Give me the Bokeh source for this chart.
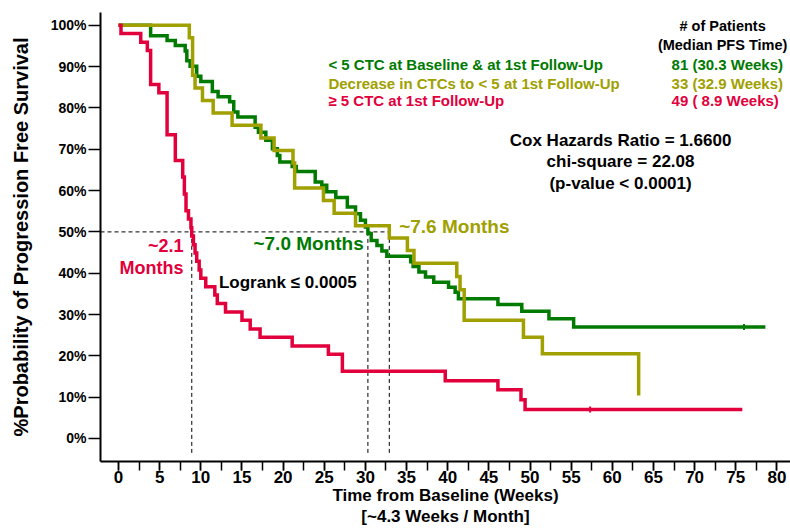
import math
from bokeh.plotting import figure
from bokeh.models import Range1d, Label, SingleIntervalTicker, FixedTicker
from bokeh.embed import file_html
from bokeh.resources import INLINE

# ---------------- data ----------------
green_weeks = [0, 3.9, 5.9, 6.9, 8.1, 8.3, 8.7, 9.5, 10.0, 11.4, 12.1, 13.5, 14.0, 14.5, 16.6,
               17.0, 17.9, 18.7, 19.3, 19.6, 21.1, 21.6, 23.9, 24.7, 25.3, 26.4, 27.8, 28.8,
               29.4, 30.0, 30.3, 30.7, 31.4, 32.0, 32.6, 35.5, 35.8, 36.5, 37.3, 38.3, 40.1,
               40.9, 41.3, 46.1, 49.0, 52.3, 55.3, 78.6]
green_surv = [100, 97.5, 96.3, 95.1, 93.8, 91.4, 90.1, 87.7, 86.4, 84.0, 82.7, 81.5, 79.0, 77.8,
              75.3, 74.1, 72.2, 70.1, 68.5, 66.9, 65.8, 64.6, 62.1, 61.3, 59.7, 58.3, 56.0, 54.4,
              52.8, 51.2, 49.6, 47.9, 46.7, 45.4, 44.1, 42.8, 41.6, 40.3, 39.1, 37.8, 36.6, 35.4,
              33.8, 32.4, 30.8, 29.0, 27.0, 27.0]

olive_weeks = [0, 8.6, 9.0, 9.3, 10.2, 11.5, 13.8, 17.3, 18.9, 21.2, 21.4, 24.9, 26.2, 28.8,
               32.9, 35.1, 35.9, 41.1, 41.5, 42.0, 49.2, 51.5, 63.2]
olive_surv = [100, 97.0, 87.9, 84.8, 81.8, 78.8, 75.8, 72.7, 69.7, 66.7, 60.6, 57.6, 54.5, 51.5,
              48.5, 45.5, 42.4, 39.2, 36.0, 28.6, 24.5, 20.5, 10.4]

red_weeks = [0, 0.3, 2.7, 3.5, 3.9, 4.9, 5.9, 6.9, 7.8, 8.0, 8.2, 8.5, 8.8, 8.9, 9.1, 9.3, 9.5,
             9.8, 10.0, 10.6, 11.7, 12.0, 13.0, 15.0, 16.0, 17.2, 21.1, 25.5, 27.2, 39.7, 46.1,
             48.9, 49.4, 75.8]
red_surv = [100, 98.0, 95.9, 93.9, 85.7, 83.7, 73.5, 67.3, 63.3, 59.2, 55.1, 53.1, 51.0, 49.0,
            46.9, 44.9, 42.9, 40.8, 38.8, 36.7, 34.7, 32.7, 30.6, 28.6, 26.5, 24.5, 22.4, 20.4,
            16.3, 14.0, 11.8, 9.4, 7.0, 7.0]

green_censor_weeks = [76.0]
green_censor_surv = [27.0]
red_censor_weeks = [57.3]
red_censor_surv = [7.0]

median_weeks = [8.9, 30.3, 32.9]
median_level = 50

y_ticks = [0, 10, 20, 30, 40, 50, 60, 70, 80, 90, 100]
y_tick_labels = ["0%", "10%", "20%", "30%", "40%", "50%", "60%", "70%", "80%", "90%", "100%"]

legend_names = ["< 5 CTC at Baseline & at 1st Follow-Up",
                "Decrease in CTCs to < 5 at 1st Follow-Up",
                "\u2265 5 CTC at 1st Follow-Up"]
legend_counts = ["81 (30.3 Weeks)", "33 (32.9 Weeks)", "49 (  8.9 Weeks)"]

GREEN = "#007a00"
OLIVE = "#a0a000"
RED = "#e2003c"
FONT = "Liberation Sans"

p = figure(width=790, height=529, x_range=Range1d(-2.19, 81.65), y_range=Range1d(-5.57, 103.1),
           output_backend="svg", toolbar_location=None,
           min_border_left=100, min_border_right=0, min_border_top=12, min_border_bottom=68)
p.outline_line_color = None
p.xgrid.visible = False
p.ygrid.visible = False
p.background_fill_color = "white"
p.border_fill_color = "white"

# axes
xa = p.xaxis[0]
xa.ticker = SingleIntervalTicker(interval=5, num_minor_ticks=2)
xa.axis_line_width = 2
xa.major_tick_line_width = 1.5
xa.minor_tick_line_width = 1.5
xa.major_tick_out = 9
xa.major_tick_in = 0
xa.minor_tick_out = 9
xa.minor_tick_in = 0
xa.major_label_text_font = FONT
xa.major_label_text_font_style = "bold"
xa.major_label_text_font_size = "17px"
xa.major_label_text_color = "black"
xa.major_label_standoff = 0
xa.axis_label = "Time from Baseline (Weeks)\n[~4.3 Weeks / Month]"
xa.axis_label_text_font = FONT
xa.axis_label_text_font_style = "bold"
xa.axis_label_text_font_size = "17px"
xa.axis_label_text_color = "black"
xa.axis_label_standoff = 0
xa.axis_label_text_line_height = 1.15

ya = p.yaxis[0]
ya.ticker = FixedTicker(ticks=y_ticks)
ya.major_label_overrides = {t: l for t, l in zip(y_ticks, y_tick_labels)}
ya.axis_line_width = 2
ya.major_tick_line_width = 1.5
ya.major_tick_out = 12
ya.major_tick_in = 0
ya.minor_tick_out = 0
ya.minor_tick_in = 0
ya.major_label_text_font = FONT
ya.major_label_text_font_style = "bold"
ya.major_label_text_font_size = "14px"
ya.major_label_text_color = "black"
ya.major_label_standoff = 2
ya.axis_label = "%Probability of Progression Free Survival"
ya.axis_label_text_font = FONT
ya.axis_label_text_font_style = "bold"
ya.axis_label_text_font_size = "20px"
ya.axis_label_text_color = "black"
ya.axis_label_standoff = 16

# median guide lines
p.line([p.x_range.start, max(median_weeks)], [median_level, median_level],
       line_color="black", line_dash="4 3", line_width=1)
p.segment(x0=median_weeks, y0=[median_level] * 3, x1=median_weeks, y1=[-4] * 3,
          line_color="black", line_dash="4 3", line_width=1)

# survival curves
p.step(green_weeks, green_surv, mode="after", line_color=GREEN, line_width=3.5, line_join="miter")
p.step(olive_weeks, olive_surv, mode="after", line_color=OLIVE, line_width=3.5, line_join="miter")
p.step(red_weeks, red_surv, mode="after", line_color=RED, line_width=3.5, line_join="miter")
p.scatter(green_censor_weeks, green_censor_surv, marker="dash", angle=math.pi / 2, size=6,
          line_color=GREEN, line_width=2)
p.scatter(red_censor_weeks, red_censor_surv, marker="dash", angle=math.pi / 2, size=6,
          line_color=RED, line_width=2)


def lab(x, y, text, color="black", size="15px", align="left", angle=0.0):
    p.add_layout(Label(x=x, y=y, text=text, text_color=color, text_font=FONT,
                       text_font_style="bold", text_font_size=size, text_align=align,
                       text_baseline="middle", angle=angle))


# legend block
for name, cnt, col, yy in zip(legend_names, legend_counts, [GREEN, OLIVE, RED], [90.6, 86.0, 81.7]):
    lab(25.5, yy, name, col, "15px")
    lab(67.2, yy, cnt, col, "15px")
lab(73.4, 99.8, "# of Patients", "black", "14.5px", "center")
lab(73.4, 95.2, "(Median PFS Time)", "black", "14.5px", "center")

# statistics
lab(61.0, 72.2, "Cox Hazards Ratio = 1.6600", "black", "17px", "center")
lab(61.0, 67.1, "chi-square = 22.08", "black", "17px", "center")
lab(61.0, 61.7, "(p-value < 0.0001)", "black", "17px", "center")

# median annotations
lab(7.9, 46.5, "~2.1", RED, "18px", "right")
lab(7.9, 41.2, "Months", RED, "18px", "right")
lab(29.8, 47.2, "~7.0 Months", GREEN, "19px", "right")
lab(34.1, 51.3, "~7.6 Months", OLIVE, "19px", "left")
lab(12.2, 37.8, "Logrank  \u2264 0.0005", "black", "17px", "left")

open("out.html", "w").write(file_html(p, INLINE))
